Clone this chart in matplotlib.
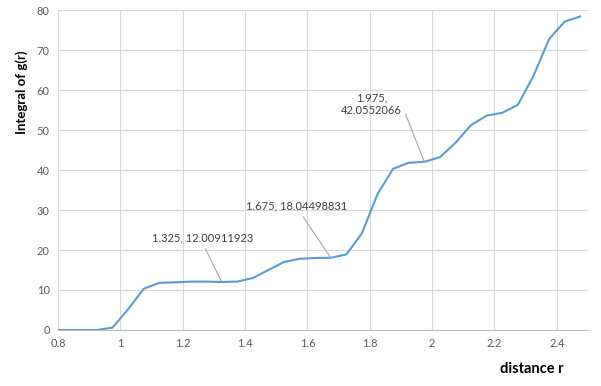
import numpy as np
import matplotlib.pyplot as plt

r = [0.775, 0.825, 0.875, 0.925, 0.975, 1.025, 1.075, 1.125, 1.175, 1.225, 1.275,
     1.325, 1.375, 1.425, 1.475, 1.525, 1.575, 1.625, 1.675, 1.725, 1.775,
     1.825, 1.875, 1.925, 1.975, 2.025, 2.075, 2.125, 2.175, 2.225, 2.275,
     2.325, 2.375, 2.425, 2.475]
g_int = [0, 0, 0, 0, 0.6, 5.2, 10.3, 11.8, 11.9, 12.1, 12.1,
         12.00911923, 12.1, 13.0, 15.0, 17.0, 17.8, 18.0, 18.04498831, 18.9, 24.2,
         34.0, 40.3, 41.8, 42.0552066, 43.2, 46.8, 51.25, 53.6, 54.3, 56.3,
         63.5, 72.7, 77.1, 78.4]

# labelled points: (index, label text, text position in data coords, leader start on box)
labels = [(11, "1.325, 12.00911923", (1.264, 23.1), (0.5, 0.0)),
          (18, "1.675, 18.04498831", (1.565, 31.0), (0.53, 0.0)),
          (24, "1.975,\n42.0552066", (1.805, 56.4), (1.0, 0.5))]

plt.rcParams['font.family'] = ['Lato', 'DejaVu Sans']
fig = plt.figure(figsize=(6.01, 3.86), dpi=100)
ax = fig.add_axes([58/601, 56/386, 530/601, 320/386])

ax.plot(r, g_int, color='#5B9BD5', lw=1.5, solid_joinstyle='round')

ax.set_xlim(0.8, 2.5)
ax.set_ylim(0, 80)
ax.set_xticks(np.arange(0.8, 2.41, 0.2))
ax.set_xticklabels(['0.8', '1', '1.2', '1.4', '1.6', '1.8', '2', '2.2', '2.4'])
ax.set_yticks(np.arange(0, 81, 10))
ax.grid(True, color='#D9D9D9', lw=0.8)
ax.set_axisbelow(True)
for s in ['top', 'right', 'left']:
    ax.spines[s].set_visible(False)
ax.spines['bottom'].set_color('#BFBFBF')
ax.spines['bottom'].set_linewidth(0.8)
ax.tick_params(length=0, labelsize=8, colors='#595959', pad=6)

for i, txt, pos, rp in labels:
    ax.annotate(txt, xy=(r[i], g_int[i]), xytext=pos, ha='center', va='center',
                fontsize=8, color='#404040', linespacing=1.2,
                arrowprops=dict(arrowstyle='-', color='#A6A6A6', lw=0.8,
                                shrinkA=2, shrinkB=0, relpos=rp))

fig.text(22/601, 1 - 92/386, 'Integral of g(r)', rotation=90, ha='center', va='center',
         fontsize=9.5, fontweight='bold', color='black')
fig.text(532/601, 1 - 369/386, 'distance r', ha='center', va='center',
         fontsize=10.5, fontweight='bold', color='black')

fig.savefig('out.png', dpi=100, facecolor='white')
